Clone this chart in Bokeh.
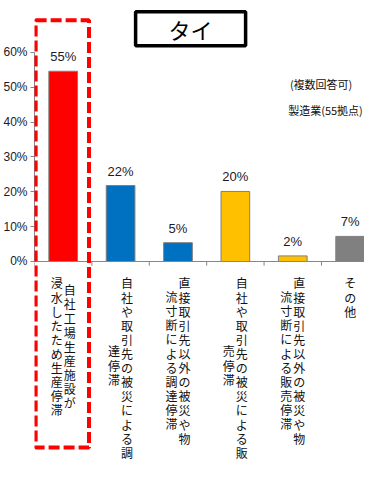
from bokeh.plotting import figure
from bokeh.models import Range1d, Span, Label, NumeralTickFormatter, FixedTicker, ColumnDataSource, BoxAnnotation
from bokeh.core.properties import value
from bokeh.embed import file_html
from bokeh.resources import INLINE

# ---- data ----
categories = [
    ["自社工場生産施設が", "浸水したため生産停滞"],
    ["自社や取引先の被災による調", "達停滞"],
    ["直接取引先以外の被災や物", "流寸断による調達停滞"],
    ["自社や取引先の被災による販", "売停滞"],
    ["直接取引先以外の被災や物", "流寸断による販売停滞"],
    ["その他"],
]
values_pct = [54.6, 21.8, 5.4, 20.1, 1.6, 7.2]
bar_colors = ["#FF0000", "#0070C0", "#0070C0", "#FFC000", "#FFC000", "#808080"]
y_ticks = [0, 0.1, 0.2, 0.3, 0.4, 0.5, 0.6]
title_text = "タイ"
note1 = "(複数回答可)"
note2 = "製造業(55拠点)"
highlight_index = 0

JP = "Noto Sans CJK JP"
NARROW = "'Liberation Sans Narrow', 'Liberation Sans', sans-serif"

n = len(categories)
xs = [i + 0.5 for i in range(n)]
vals = [v / 100 for v in values_pct]

p = figure(width=364, height=461, output_backend="svg", toolbar_location=None,
           x_range=Range1d(0, 5.75), y_range=Range1d(-0.574, 0.749),
           x_axis_type=None, min_border_left=26, min_border_right=0,
           min_border_top=0, min_border_bottom=0)
p.outline_line_color = None
p.grid.visible = False
p.background_fill_color = "white"

# y axis
ya = p.yaxis[0]
ya.bounds = (0, 0.6)
ya.ticker = FixedTicker(ticks=y_ticks)
ya.formatter = NumeralTickFormatter(format="0%")
ya.axis_line_color = "#868686"
ya.major_tick_line_color = "#868686"
ya.major_tick_in = 0
ya.major_tick_out = 4
ya.minor_tick_line_color = None
ya.major_label_standoff = 3
ya.major_label_text_font = NARROW
ya.major_label_text_font_size = "12px"
ya.major_label_text_color = "#1a1a2a"

# x axis line and ticks
p.add_layout(Span(location=0, dimension="width", line_color="#868686", line_width=1))
tick_x = list(range(n + 1))
p.segment(x0=tick_x, y0=[0] * len(tick_x), x1=tick_x, y1=[-0.012] * len(tick_x),
          line_color="#868686", line_width=1)

# bars
src = ColumnDataSource(dict(x=xs, top=vals, color=bar_colors,
                            label=[f"{round(v)}%" for v in values_pct]))
p.vbar(x="x", top="top", bottom=0, width=0.5, source=src, fill_color="color",
       line_color="#7f7f7f", line_width=1)
p.text(x="x", y="top", text="label", source=src, text_align="center",
       text_baseline="bottom", y_offset=-7, text_font=value(NARROW),
       text_font_size="13px", text_color="#1a1a2a")

# category labels (vertical text, columns right to left)
pitch = 13.6
lx, lt, lxo, lyo = [], [], [], []
for i, cols in enumerate(categories):
    maxlen = max(len(c) for c in cols)
    k = len(cols)
    for j, col in enumerate(cols):
        lx.append(xs[i])
        lt.append("\n".join(col))
        lxo.append(((k - 1) / 2 - j) * 13)
        lyo.append(13 + (maxlen - len(col)) / 2 * pitch)
lsrc = ColumnDataSource(dict(x=lx, y=[0] * len(lx), text=lt, xo=lxo, yo=lyo))
p.text(x="x", y="y", text="text", x_offset="xo", y_offset="yo", source=lsrc,
       text_align="center", text_baseline="top", text_font=value(JP),
       text_font_size="12px", text_line_height=0.83, text_color="#111111")

# highlight dashed box
p.add_layout(BoxAnnotation(left=highlight_index + 0.02, right=highlight_index + 0.95,
                           top=0.692, bottom=-0.534, fill_alpha=0, fill_color=None,
                           line_color="#FF0000", line_alpha=1.0, line_width=4,
                           line_dash="11 4"))

# title box
p.add_layout(Label(x=2.72, y=0.668, text=title_text, text_align="center",
                   text_baseline="middle", text_font=JP, text_font_size="22px",
                   text_color="black", border_line_color="black", border_line_width=3.5,
                   background_fill_color="white",
                   padding=dict(left=33, right=33, top=1, bottom=1)))

# notes
p.add_layout(Label(x=4.45, y=0.508, text=note1, text_align="left", text_baseline="middle",
                   text_font=JP, text_font_size="11px", text_color="#111111"))
p.add_layout(Label(x=4.42, y=0.436, text=note2, text_align="left", text_baseline="middle",
                   text_font=JP, text_font_size="11px", text_color="#111111"))

open("out.html", "w").write(file_html(p, INLINE))
